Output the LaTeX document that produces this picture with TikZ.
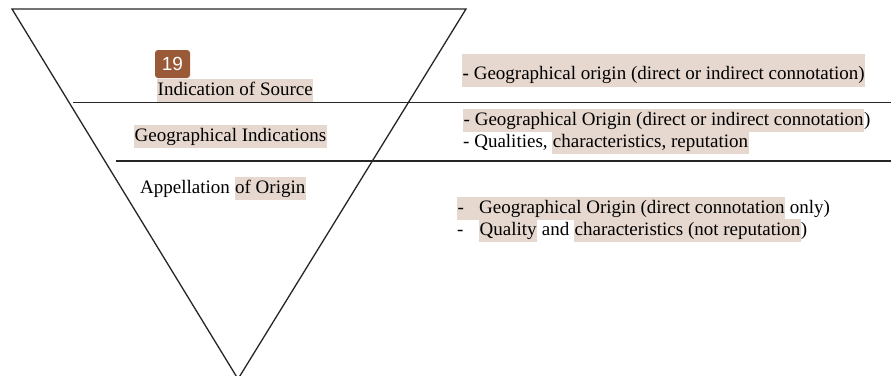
\documentclass[tikz,border=0pt]{standalone}
\usepackage{fontspec}
\setmainfont{Liberation Serif}
\newfontfamily\badgefont{Liberation Sans}
\usetikzlibrary{positioning}
\definecolor{hlbeige}{HTML}{E6D8CF}
\definecolor{badgebrown}{HTML}{9A5A38}
\setlength{\fboxsep}{0.5pt}
\newcommand{\hlt}[1]{\colorbox{hlbeige}{\strut #1}}
\tikzset{
    txt/.style={anchor=base west, inner sep=0pt, font=\fontsize{19}{22}\selectfont},
    badge/.style={fill=badgebrown, rounded corners=3pt, text=white, minimum width=35pt, minimum height=28pt, inner sep=0pt, font=\badgefont\fontsize{19}{22}\selectfont},
    edge/.style={line width=1.3pt, black!85}
}

\begin{document}
\begin{tikzpicture}[x=1pt, y=-1pt]
    \useasboundingbox (0,0) rectangle (891,375);
    \draw[edge] (12,9) -- (466,9) -- (238,379) -- cycle; % funnel
    \draw[edge] (73,102.5) -- (891,102.5); % first divider
    \draw[edge] (116,161) -- (891,161);   % second divider

    % left labels
    \node[txt] (source) at (157,95) {\hlt{Indication of Source}};
    \node[txt] (geoind) at (134,141) {\hlt{Geographical Indications}};
    \node[txt] (appel) at (140,193) {Appellation \hlt{of Origin}};
    \node[badge] (num) at (172.5,64) {19};

    % right descriptions
    \node[txt] (srcdesc) at (462,79) {\colorbox{hlbeige}{\rule[-7pt]{0pt}{32pt}\textbf{-} Geographical origin (direct or indirect connotation)}};
    \node[txt] (gidesca) at (463,125) {\hlt{- Geographical Origin (direct or indirect connotation})};
    \node[txt] (gidescb) at (463,147) {- Qualities, \hlt{characteristics, reputation}};
    \node[txt] (aodesca) at (457,213) {\hlt{\makebox[21.5pt][l]{-}Geographical Origin (direct connotation} only)};
    \node[txt] (aodescb) at (457,235) {\makebox[22pt][l]{-}\hlt{Quality} and \hlt{characteristics (not reputation})};
\end{tikzpicture}
\end{document}
